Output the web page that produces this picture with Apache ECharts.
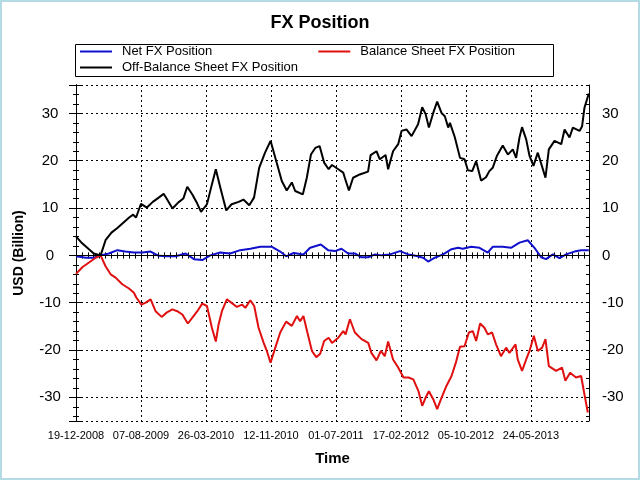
<!DOCTYPE html>
<html>
<head>
<meta charset="utf-8">
<title>FX Position</title>
<script src="https://cdn.jsdelivr.net/npm/echarts/dist/echarts.min.js"></script>
<style>
  html, body { margin: 0; padding: 0; background: #fff; }
  #fx { width: 640px; height: 480px; }
</style>
</head>
<body>
<div id="fx"></div>
<script>
// x axis runs in weeks after 19-12-2008, a label every 33 weeks
var tickLabels = ['19-12-2008', '07-08-2009', '26-03-2010', '12-11-2010',
                  '01-07-2011', '17-02-2012', '05-10-2012', '24-05-2013'];
var labelStep = 33;

// Net FX Position
var netWeeks = [0, 5, 9, 12.5, 16.7, 21, 25, 29.4, 33.7, 37.9, 42, 46.3, 50.6, 55.7, 59.9,
    64.1, 68.2, 73.2, 78.3, 83.4, 88.5, 93.6, 99.5, 103.7, 106.7, 110.5, 115.5, 118.9, 124.3, 128,
    131.5, 134.8, 138.2, 141.6, 145, 148.4, 151.8, 155.2, 159.4, 164.5, 168.7, 172.4, 176.3, 178.8, 182.2,
    186.4, 190.7, 194, 196.4, 200.7, 204.9, 209.1, 211.6, 216.7, 220.9, 225.2, 229.4, 232.8, 236.2, 238.7,
    242.1, 245.5, 248.9, 253.1, 256.5, 260.4];
var netValues = [-0.2, -0.5, -0.5, 0.0, 0.4, 1.1, 0.8, 0.6, 0.6, 0.8, -0.1, -0.2, -0.2, 0.4, -0.8,
    -1.0, 0.0, 0.6, 0.4, 1.1, 1.4, 1.8, 1.8, 0.8, -0.2, 0.5, 0.2, 1.6, 2.3, 1.1,
    0.9, 1.4, 0.4, 0.4, -0.4, -0.4, 0.2, 0.0, 0.2, 0.9, 0.2, -0.1, -0.5, -1.3, -0.5,
    0.2, 1.3, 1.6, 1.4, 1.8, 1.6, 0.6, 1.8, 1.8, 1.6, 2.7, 3.2, 1.6, -0.4, -0.8,
    0.2, -0.6, 0.2, 0.8, 1.1, 1.1];

// Balance Sheet FX Position
var balWeeks = [0, 3.2, 6.6, 10, 12.5, 15, 17.6, 20.1, 23.5, 26.9, 29.4, 30.6, 33.2, 35.4, 37.9,
    40.4, 43.5, 46, 48.9, 51.4, 54, 56.8, 59, 61.6, 64.1, 66.5, 69, 71, 72.4, 74.1,
    76.6, 79.2, 81.7, 84.3, 86, 88.5, 90.5, 92.7, 95.3, 96.9, 98.8, 101.2, 103.7, 106.7, 109.6,
    112.2, 113.8, 115.5, 117.5, 119.8, 122, 124, 126, 128.3, 130, 133.2, 135.7, 136.9, 139.1, 141.6,
    145, 148.4, 150, 152.6, 154.8, 156.8, 158.5, 161, 163.6, 166.3, 168.8, 171.3, 173.9, 175.8, 177.5,
    179.2, 181.4, 183.4, 185.6, 188.1, 190.7, 193, 195, 197.3, 199.5, 201.5, 203.2, 205.2, 207.4, 209.1,
    211.3, 213.3, 215.8, 218.4, 220.1, 223.2, 224.3, 226.5, 228.6, 230.3, 232.5, 234.5, 236.7, 238.4, 240.1,
    243.8, 246.8, 248.5, 250.9, 253.9, 256.5, 258.2, 259.9];
var balValues = [-3.9, -2.5, -1.5, -0.5, 0.0, -2.3, -4.0, -4.7, -6.1, -7.0, -7.9, -8.9, -10.4, -10.0, -9.3,
    -11.8, -13.0, -12.1, -11.4, -11.8, -12.5, -14.4, -13.2, -11.8, -10.2, -10.7, -15.3, -18.2, -14.6, -11.8,
    -9.3, -10.1, -10.9, -10.4, -11.1, -9.5, -10.7, -15.3, -18.5, -20.2, -22.7, -19.5, -16.3, -14.0, -14.9,
    -12.8, -13.9, -12.8, -16.3, -20.2, -21.5, -20.8, -18.1, -17.4, -18.5, -17.4, -16.0, -16.7, -13.5, -16.3,
    -17.7, -18.5, -20.6, -22.2, -20.2, -21.3, -18.2, -22.0, -23.7, -25.8, -25.8, -26.2, -28.7, -31.8, -30.1,
    -28.7, -30.4, -32.5, -30.1, -27.6, -25.5, -22.5, -19.3, -19.2, -16.3, -16.0, -18.1, -14.4, -15.3, -16.7,
    -16.3, -18.8, -21.3, -19.5, -20.6, -18.8, -22.0, -24.4, -22.0, -20.2, -17.0, -20.2, -19.5, -17.7, -23.4,
    -24.4, -23.7, -26.5, -24.8, -25.8, -25.5, -29.4, -33.2];

// Off-Balance Sheet FX Position
var offWeeks = [0, 3, 6, 9, 12.5, 15, 18, 21, 24, 27, 29, 30.5, 33, 36, 39,
    42, 44.5, 46, 49, 52, 54.5, 56.5, 59, 61.5, 63.5, 66.5, 69, 71, 73.3, 76.3,
    79, 82.6, 85, 88, 90.4, 93, 96, 98.8, 101.7, 104.5, 107, 109.6, 111.3, 115.2, 117.2,
    119.3, 121.5, 123.7, 126, 128.3, 130, 133.2, 135.7, 136.5, 138.6, 140.7, 144.1, 148.3, 149.6, 152.6,
    154.3, 157.2, 158.5, 161, 163.6, 165.3, 167.8, 170.4, 173.7, 175.8, 177.5, 179.2, 181.4, 183.4, 185.6,
    187.3, 189, 189.9, 192.4, 195, 197.3, 199, 201.2, 203.2, 205.7, 208.2, 209.9, 211.6, 213.7, 216.7,
    219.3, 221.8, 223.5, 225.2, 226.5, 228.6, 230.3, 232.3, 234.5, 236.2, 238.4, 240.1, 243, 246.4, 248.1,
    250.6, 252.3, 255.7, 257, 258.2, 260.4];
var offValues = [4.0, 2.6, 1.5, 0.4, 0.0, 3.2, 4.8, 5.8, 6.9, 8.0, 8.6, 8.0, 10.9, 10.1, 11.3,
    12.2, 13.0, 12.0, 9.9, 11.2, 12.0, 14.5, 12.9, 11.0, 9.2, 10.8, 15.0, 18.2, 14.3, 9.5,
    10.8, 11.3, 11.8, 10.6, 12.2, 18.5, 21.7, 24.2, 19.9, 15.7, 13.7, 15.4, 13.6, 12.9, 16.4,
    21.3, 22.7, 23.1, 19.6, 18.2, 19.1, 18.2, 17.5, 16.4, 13.7, 16.4, 17.1, 17.7, 21.2, 22.0,
    20.3, 21.2, 18.2, 22.0, 23.5, 26.3, 26.6, 25.2, 27.7, 31.3, 29.9, 27.0, 30.1, 32.5, 30.1,
    29.4, 27.0, 28.0, 24.9, 20.6, 20.3, 18.0, 17.8, 19.9, 15.8, 16.5, 17.8, 18.5, 21.0, 23.2,
    21.3, 22.4, 20.6, 24.9, 27.1, 24.5, 21.0, 18.9, 21.7, 19.4, 16.4, 22.4, 24.2, 23.5, 26.6,
    24.9, 27.0, 26.3, 27.3, 31.2, 34.2];

function pairs(xs, ys) {
    return xs.map(function (x, i) { return [x, ys[i]]; });
}

var font = 'Liberation Sans, Arial, sans-serif';
var black = '#000';

// one frame axis; ticks of the reference cross the frame, so each side
// gets an outward and an inward copy
function xFrame(pos, inside, len) {
    return {
        type: 'value', position: pos, min: 0, max: 260.5, interval: labelStep,
        axisLine: { lineStyle: { color: black, width: 1 } },
        axisTick: { inside: inside, length: len, lineStyle: { color: black } },
        minorTick: { show: true, splitNumber: 11, length: 3, lineStyle: { color: black } },
        axisLabel: { show: false },
        splitLine: { show: false }
    };
}
function yFrame(pos, inside, len) {
    return {
        type: 'value', position: pos, min: -35, max: 36,
        axisLine: { show: true, lineStyle: { color: black, width: 1 } },
        axisTick: { show: true, inside: inside, length: len, lineStyle: { color: black } },
        minorTick: { show: true, splitNumber: 5, length: 3, lineStyle: { color: black } },
        axisLabel: { show: false },
        splitLine: { show: false }
    };
}

var xMain = xFrame('bottom', false, 5);
xMain.axisLabel = {
    show: true, color: black, fontSize: 11, fontFamily: font, margin: 9,
    showMinLabel: true, showMaxLabel: false,
    formatter: function (v) {
        var i = v / labelStep;
        return (i % 1 === 0 && tickLabels[i]) ? tickLabels[i] : '';
    }
};
xMain.splitLine = { show: true, lineStyle: { color: black, type: [2, 3], width: 1 } };
xMain.name = 'Time';
xMain.nameLocation = 'middle';
xMain.nameGap = 30;
xMain.nameTextStyle = { color: black, fontSize: 15, fontWeight: 'bold', fontFamily: font };

var yLabelFmt = function (v) { return v % 10 === 0 ? String(v) : ''; };

var yMain = yFrame('left', false, 7);
yMain.axisLabel = {
    show: true, color: black, fontSize: 15, fontFamily: font, margin: 26, align: 'center',
    showMinLabel: false, showMaxLabel: false, formatter: yLabelFmt
};
yMain.splitLine = { show: true, lineStyle: { color: black, type: [2, 3], width: 1 } };
yMain.name = 'USD (Billion)';
yMain.nameLocation = 'middle';
yMain.nameGap = 50;
yMain.nameTextStyle = { color: black, fontSize: 14, fontWeight: 'bold', fontFamily: font };

var yRight = yFrame('right', false, 4);
yRight.axisLabel = {
    show: true, color: black, fontSize: 15, fontFamily: font, margin: 13,
    showMinLabel: false, showMaxLabel: false, formatter: yLabelFmt
};

var dom = document.getElementById('fx');
var myChart = echarts.init(dom);
var option = {
    backgroundColor: '#fff',
    animation: false,
    title: {
        text: 'FX Position',
        left: 'center',
        top: 9,
        textStyle: { color: black, fontSize: 18, fontWeight: 'bold', fontFamily: font }
    },
    // legend: plain line keys, two rows inside a drawn box
    legend: [{
        data: ['Net FX Position', 'Balance Sheet FX Position'],
        left: 80, top: 45, padding: 0, itemGap: 106,
        icon: 'rect', itemWidth: 32, itemHeight: 2,
        textStyle: { color: black, fontSize: 13, fontFamily: font, padding: [0, 0, 0, 5] }
    }, {
        data: ['Off-Balance Sheet FX Position'],
        left: 80, top: 61, padding: 0,
        icon: 'rect', itemWidth: 32, itemHeight: 2,
        textStyle: { color: black, fontSize: 13, fontFamily: font, padding: [0, 0, 0, 5] }
    }],
    graphic: [{
        type: 'rect', silent: true,
        shape: { x: 75.5, y: 44.5, width: 478, height: 32 },
        style: { fill: 'none', stroke: black, lineWidth: 1 }
    }, {
        type: 'rect', silent: true,
        shape: { x: 1, y: 1, width: 638, height: 478 },
        style: { fill: 'none', stroke: '#b4dbe3', lineWidth: 2 }
    }],
    grid: { left: 76, right: 51, top: 85, bottom: 59, outerBoundsMode: 'none' },
    xAxis: [xMain, xFrame('bottom', true, 4), xFrame('top', true, 4)],
    yAxis: [yMain, yFrame('left', true, 5), yRight, yFrame('right', true, 3)],
    series: [{
        name: 'Net FX Position',
        type: 'line',
        symbol: 'none',
        color: '#1010cc',
        lineStyle: { width: 2 },
        data: pairs(netWeeks, netValues),
        markLine: {
            silent: true, symbol: 'none', label: { show: false },
            lineStyle: { color: black, type: 'solid', width: 1 },
            data: [{ yAxis: 0 }]
        }
    }, {
        name: 'Balance Sheet FX Position',
        type: 'line',
        symbol: 'none',
        color: '#e01010',
        lineStyle: { width: 2 },
        data: pairs(balWeeks, balValues)
    }, {
        name: 'Off-Balance Sheet FX Position',
        type: 'line',
        symbol: 'none',
        color: black,
        lineStyle: { width: 2 },
        data: pairs(offWeeks, offValues)
    }]
};
if (option && typeof option === "object") {
    myChart.setOption(option, true);
}
</script>
</body>
</html>
